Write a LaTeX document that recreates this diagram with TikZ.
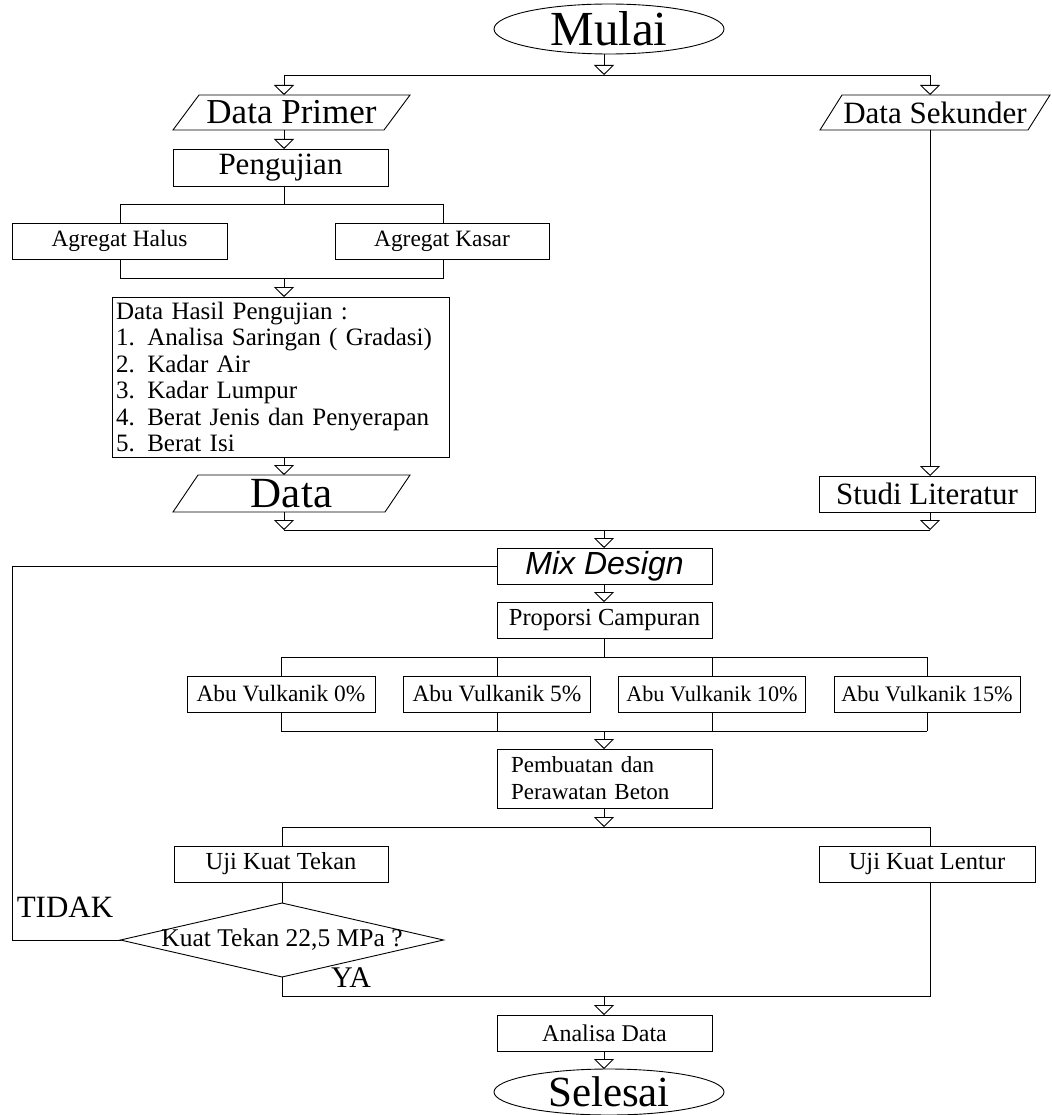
\documentclass[tikz,border=0pt]{standalone}
\usepackage{fontspec}
\setmainfont{Liberation Serif}
\newfontfamily\mixfont{Liberation Sans}
\usetikzlibrary{arrows.meta,shapes.geometric}
\newcommand\fsz[1]{\fontsize{#1}{#1}\selectfont}
\begin{document}
\begin{tikzpicture}[x=1pt,y=-1pt,line width=0.9pt,
  every node/.style={inner sep=0pt,outer sep=0pt},
  boxnode/.style={draw,rectangle},
  arr/.style={-{Triangle[open,width=20pt,length=10pt]}}]
\useasboundingbox (0,0) rectangle (1051,1115);

% start
\node[ellipse,draw,minimum width=230,minimum height=50] (mulai) at (609,29) {\fsz{49}Mulai};
\coordinate (c0) at (604,75);
\coordinate (tL) at (284,75);
\coordinate (tR) at (930,75);
\draw[arr] (mulai.south -| c0) -- (c0);
\draw (tL) -- (tR);

% Data Primer
\node[minimum width=211,minimum height=35] (dp) at (291.5,112.5) {\fsz{35}Data Primer};
\draw ([xshift=13pt]dp.north west) -- ([xshift=13pt]dp.north east) -- ([xshift=-13pt]dp.south east) -- ([xshift=-13pt]dp.south west) -- cycle;
\draw[arr] (tL) -- (tL |- dp.north);

% Data Sekunder
\node[minimum width=208,minimum height=35] (ds) at (935,112.5) {\fsz{31}Data Sekunder};
\draw ([xshift=11pt]ds.north west) -- ([xshift=11pt]ds.north east) -- ([xshift=-11pt]ds.south east) -- ([xshift=-11pt]ds.south west) -- cycle;
\draw[arr] (tR) -- (tR |- ds.north);

% Pengujian
\node[boxnode,minimum width=215,minimum height=37] (peng) at (280.5,167.5) {\fsz{31}Pengujian};
\draw[arr] (tL |- dp.south) -- (tL |- peng.north);
\coordinate (a1) at (284,204);
\coordinate (a1L) at (120,204);
\coordinate (a1R) at (443,204);
\draw (tL |- peng.south) -- (a1);
\draw (a1L) -- (a1R);

% Agregat
\node[boxnode,minimum width=215,minimum height=36] (ah) at (119.5,241) {\fsz{23.4}Agregat Halus};
\node[boxnode,minimum width=214,minimum height=36] (ak) at (442,241) {\fsz{23.4}Agregat Kasar};
\draw (a1L) -- (a1L |- ah.north);
\draw (a1R) -- (a1R |- ak.north);
\coordinate (a2L) at (120,278);
\coordinate (a2R) at (443,278);
\coordinate (a2) at (284,278);
\draw (a1L |- ah.south) -- (a2L) -- (a2R) -- (a1R |- ak.south);

% Data hasil
\node[boxnode,align=left,text width=329,inner xsep=4,minimum height=160,anchor=north west,
  font={\fontsize{25}{26.5}\selectfont}] (dh) at (112,297)
  {Data Hasil Pengujian :\\1. Analisa Saringan ( Gradasi)\\2. Kadar Air\\3. Kadar Lumpur\\4. Berat Jenis dan Penyerapan\\5. Berat Isi};
\draw[arr] (a2) -- (a2 |- dh.north);

% Data
\node[minimum width=212,minimum height=37] (dat) at (291.5,493.5) {\fsz{43}Data};
\draw ([xshift=12.5pt]dat.north west) -- ([xshift=12.5pt]dat.north east) -- ([xshift=-12.5pt]dat.south east) -- ([xshift=-12.5pt]dat.south west) -- cycle;
\draw[arr] (a2 |- dh.south) -- (a2 |- dat.north);

\coordinate (bL) at (284,530);
\coordinate (bR) at (930,530);
\coordinate (bC) at (604,530);
\draw[arr] (a2 |- dat.south) -- (bL);
\draw (bL) -- (bR);

% Studi literatur
\node[boxnode,minimum width=216,minimum height=36] (sl) at (927,494) {\fsz{31}Studi Literatur};
\draw[arr] (tR |- ds.south) -- (tR |- sl.north);
\draw[arr] (tR |- sl.south) -- (bR);

% Mix design
\node[boxnode,minimum width=215,minimum height=36] (md) at (604.5,566) {\mixfont\itshape\fsz{32}Mix Design};
\draw[arr] (bC) -- (bC |- md.north);

% Proporsi
\node[boxnode,minimum width=215,minimum height=36] (pc) at (604.5,620) {\fsz{24.5}Proporsi Campuran};
\draw[arr] (md.south -| bC) -- (pc.north -| bC);
\coordinate (p1) at (604,657);
\draw (pc.south -| bC) -- (p1);

% Abu vulkanik
\node[boxnode,minimum width=188,minimum height=36] (av0) at (281,694) {\fsz{23.4}Abu Vulkanik 0\%};
\node[boxnode,minimum width=187,minimum height=36] (av5) at (497,694) {\fsz{23.4}Abu Vulkanik 5\%};
\node[boxnode,minimum width=187,minimum height=36] (av10) at (712,694) {\fsz{22.2}Abu Vulkanik 10\%};
\node[boxnode,minimum width=186,minimum height=36] (av15) at (927,694) {\fsz{22.2}Abu Vulkanik 15\%};
\coordinate (h1L) at (281,657);
\coordinate (h1R) at (927,657);
\coordinate (h2L) at (281,731);
\coordinate (h2R) at (927,731);
\coordinate (h2C) at (604,731);
\draw (h1L) -- (h1R);
\draw (h2L) -- (h2R);
\foreach \n in {av0,av5,av10,av15}{
  \draw (\n.north |- h1L) -- (\n.north);
  \draw (\n.south) -- (\n.south |- h2L);
}

% Pembuatan
\node[boxnode,minimum width=215,minimum height=59,align=left,text width=187,inner xsep=14,
  font={\fontsize{23}{27}\selectfont}] (pb) at (604.5,778.5) {Pembuatan dan\\Perawatan Beton};
\draw[arr] (h2C) -- (h2C |- pb.north);
\coordinate (u0) at (604,827);
\coordinate (uL) at (282,827);
\coordinate (uR) at (930,827);
\draw[arr] (pb.south -| u0) -- (u0);
\draw (uL) -- (uR);

% Uji
\node[boxnode,minimum width=214,minimum height=36] (ukt) at (281,864) {\fsz{24.5}Uji Kuat Tekan};
\node[boxnode,minimum width=216,minimum height=36] (ukl) at (927,864) {\fsz{24.5}Uji Kuat Lentur};
\draw (uL) -- (uL |- ukt.north);
\draw (uR) -- (uR |- ukl.north);

% Decision
\node[minimum width=323,minimum height=74] (dia) at (282,940) {\fsz{25.5}Kuat Tekan 22,5 MPa ?};
\draw (dia.north) -- (dia.east) -- (dia.south) -- (dia.west) -- cycle;
\draw (uL |- ukt.south) -- (dia.north);
\node (tidak) at (65,907) {\fsz{31}TIDAK};
\node (ya) at (351,978) {\fsz{30}YA};

% loop back
\coordinate (lp1) at (12,566);
\coordinate (lp2) at (12,940);
\draw (md.west) -- (lp1) -- (lp2) -- (dia.west);

% merge
\coordinate (vR) at (930,996);
\coordinate (vC) at (604,996);
\draw (dia.south) -- (dia.south |- vR) -- (vR) -- (uR |- ukl.south);

% end
\node[boxnode,minimum width=215,minimum height=36] (ad) at (604.5,1033) {\fsz{24}Analisa Data};
\node[ellipse,draw,minimum width=230,minimum height=46] (sel) at (609,1092) {\fsz{43}Selesai};
\draw[arr] (vC) -- (vC |- ad.north);
\draw[arr] (ad.south -| vC) -- (sel.north -| vC);
\end{tikzpicture}
\end{document}
